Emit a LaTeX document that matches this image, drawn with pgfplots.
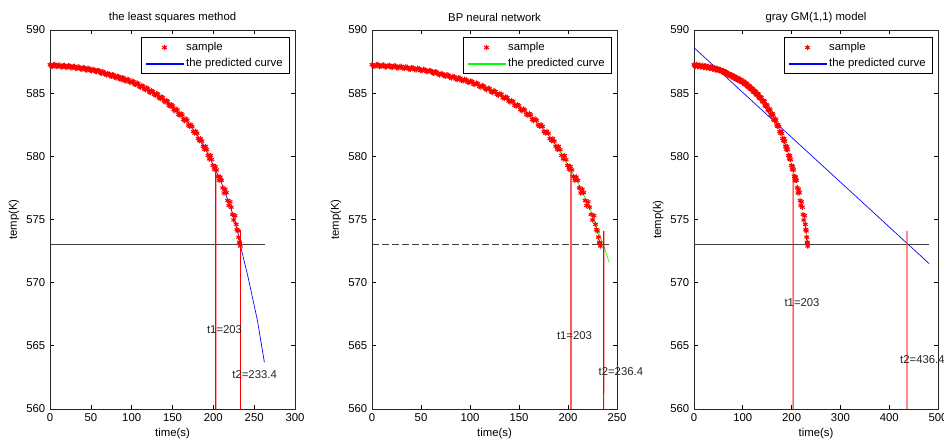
\documentclass[border=0pt]{standalone}
\usepackage{fontspec}
\setmainfont{Liberation Sans}
\usepackage{pgfplots}
\pgfplotsset{compat=1.18}
\usepackage{pgfplotstable}

\pgfplotstableread{
t T
0 587.25
1.5 587.16
3 587.12
4.5 587.24
6 587.28
7.5 587.10
9 587.14
10.5 587.20
12 587.22
13.5 587.08
15 587.10
16.5 587.18
18 587.20
19.5 587.04
21 587.06
22.5 587.16
24 587.15
25.5 587.00
27 587.02
28.5 587.10
30 587.12
31.5 586.98
33 586.96
34.5 587.08
36 587.05
37.5 586.92
39 586.90
40.5 587.02
42 587.00
43.5 586.86
45 586.84
46.5 586.96
48 586.95
49.5 586.80
51 586.78
52.5 586.88
54 586.86
55.5 586.72
57 586.70
58.5 586.80
60 586.78
61.5 586.62
63 586.58
64.5 586.70
66 586.66
67.5 586.50
69 586.45
70.5 586.56
72 586.52
73.5 586.38
75 586.34
76.5 586.46
78 586.42
79.5 586.26
81 586.20
82.5 586.34
84 586.30
85.5 586.12
87 586.08
88.5 586.22
90 586.18
91.5 586.00
93 585.96
94.5 586.10
96 586.06
97.5 585.88
99 585.84
100.5 585.96
102 585.92
103.5 585.72
105 585.68
106.5 585.80
108 585.75
109.5 585.54
111 585.48
112.5 585.60
114 585.55
115.5 585.34
117 585.28
118.5 585.40
120 585.34
121.5 585.10
123 585.06
124.5 585.18
126 585.12
127.5 584.90
129 584.84
130.5 584.96
132 584.92
133.5 584.64
135 584.58
136.5 584.70
138 584.64
139.5 584.38
141 584.30
142.5 584.40
144 584.34
145.5 584.04
147 583.96
148.5 584.08
150 584.00
151.5 583.70
153 583.60
154.5 583.74
156 583.66
157.5 583.32
159 583.24
160.5 583.38
162 583.28
163.5 582.92
165 582.82
166.5 582.96
168 582.86
169.5 582.48
171 582.38
172.5 582.50
174 582.36
175.5 581.96
177 581.84
178.5 581.98
180 581.82
181.5 581.40
183 581.24
184.5 581.40
186 581.20
187.5 580.80
189 580.56
190.5 580.78
192 580.52
193.5 580.08
195 579.80
196.5 580.06
198 579.74
199.5 579.28
201 578.98
202.5 579.20
204 578.92
205.5 578.40
207 578.10
208.5 578.36
210 578.10
211.5 577.50
213 577.10
214.5 577.40
216 577.12
217.5 576.50
219 576.10
220.5 576.40
222 575.98
223.5 575.40
225 574.96
226.5 575.30
228 574.62
229 574.20
230 574.10
231 573.60
232 573.20
232.5 573.10
233 572.90
}\samples

% least squares fit
\pgfplotstableread{
t T
0 587.20
10 587.18
20 587.13
30 587.05
40 586.95
50 586.84
60 586.70
70 586.50
80 586.30
90 586.10
100 585.88
110 585.60
120 585.25
130 584.88
140 584.45
150 583.90
160 583.30
170 582.58
180 581.70
190 580.62
200 579.30
210 577.90
220 576.15
225 575.20
230 574.00
233 573.00
243 570.30
254 567.00
262.5 563.70
}\lsq

% BP network output
\pgfplotstableread{
t T
0 587.20
10 587.18
20 587.13
30 587.05
40 586.95
50 586.84
60 586.70
70 586.50
80 586.30
90 586.10
100 585.88
110 585.60
120 585.25
130 584.88
140 584.45
150 583.90
160 583.30
170 582.58
180 581.70
190 580.62
200 579.30
210 577.95
220 576.30
225 575.40
230 574.20
236.4 572.95
242 571.60
}\bpn

\pgfplotsset{
  matlab/.style={
    scale only axis, width=183.75pt, height=284.25pt,
    anchor=south west,
    ymin=560, ymax=590, ytick={560,565,...,590},
    tick align=inside, major tick length=3pt,
    axis line style={black!85, line width=0.6pt},
    tick style={black, line width=0.5pt},
    font=\fontsize{8.5}{10}\selectfont,
    ticklabel style={font=\fontsize{8.5}{10}\selectfont},
    /pgf/number format/assume math mode=true,
    scaled ticks=false,
    xlabel={time(s)},
    xlabel style={at={(axis description cs:0.5,-0.066)}, anchor=center},
    ylabel style={at={(axis description cs:-0.147,0.5)}, anchor=center},
    every axis title shift=0pt,
    title style={at={(axis description cs:0.5,1.034)}, anchor=center},
    legend style={at={(1,1)}, anchor=north east, xshift=-4pt, yshift=-5.5pt,
      draw=black, line width=0.6pt, fill=white, font=\fontsize{8.5}{10}\selectfont,
      row sep=0.5pt, inner xsep=3pt, inner ysep=1.5pt},
    legend cell align=left,
    clip=false,
  },
  samplestyle/.style={only marks, mark=asterisk, mark size=2pt, red,
    mark options={line width=0.8pt},
    legend image code/.code={\draw[##1] plot coordinates {(14pt,0pt)};}},
  curvestyle/.style={line width=0.5pt,
    legend image code/.code={\fill[##1] (0pt,-0.4pt) rectangle (28pt,0.4pt);}},
  refline/.style={forget plot, black!75, line width=0.6pt},
  tline/.style={forget plot, color=red, line width=0.85pt},
}

\begin{document}
\begin{tikzpicture}

% least squares
\begin{axis}[matlab, at={(37.5pt,24pt)},
  xmin=0, xmax=300, xtick={0,50,...,300},
  ylabel={temp(K)}, title={the least squares method}]
  \addplot[samplestyle] table[x=t,y=T] {\samples};
  \addlegendentry{sample}
  \addplot[curvestyle, blue] table[x=t,y=T] {\lsq};
  \addlegendentry{the predicted curve}
  \addplot[refline] coordinates {(0,573) (263,573)};
  \addplot[tline] coordinates {(203,560) (203.02,578.8)};
  \addplot[tline] coordinates {(233.4,560) (233.4,574.1) (229,574.1)};
  \node[anchor=west, inner sep=0pt, black!85] at (axis cs:192,566.25) {t1=203};
  \node[anchor=west, inner sep=0pt, black!85] at (axis cs:223,562.7) {t2=233.4};
\end{axis}

% BP neural network
\begin{axis}[matlab, at={(279pt,24pt)},
  xmin=0, xmax=250, xtick={0,50,...,250},
  ylabel={temp(K)}, title={BP neural network}]
  \addplot[samplestyle] table[x=t,y=T] {\samples};
  \addlegendentry{sample}
  \addplot[curvestyle, green] table[x=t,y=T] {\bpn};
  \addlegendentry{the predicted curve}
  \addplot[refline, dash pattern=on 5pt off 2.5pt] coordinates {(0,573) (243,573)};
  \addplot[tline] coordinates {(203,560) (203.02,578.8)};
  \addplot[tline] coordinates {(236.4,560) (236.45,574.1)};
  \node[anchor=west, inner sep=0pt, black!85] at (axis cs:188.5,565.8) {t1=203};
  \node[anchor=west, inner sep=0pt, black!85] at (axis cs:231,562.95) {t2=236.4};
\end{axis}

% gray GM(1,1)
\begin{axis}[matlab, at={(520.5pt,24pt)}, width=183pt,
  xmin=0, xmax=500, xtick={0,100,...,500},
  ylabel={temp(k)}, title={gray GM(1,1) model}]
  \addplot[samplestyle] table[x=t,y=T] {\samples};
  \addlegendentry{sample}
  \addplot[curvestyle, blue] coordinates {(0,588.6) (482,571.5)};
  \addlegendentry{the predicted curve}
  \addplot[refline] coordinates {(0,573) (482,573)};
  \addplot[tline] coordinates {(203,560) (203.04,578.7)};
  \addplot[tline, color=red!70] coordinates {(436.4,560) (436.44,574.1)};
  \node[anchor=west, inner sep=0pt, black!85] at (axis cs:185,568.4) {t1=203};
  \node[anchor=west, inner sep=0pt, black!85] at (axis cs:422,563.9) {t2=436.4};
\end{axis}

\pgfresetboundingbox
\path (0pt,0pt) rectangle (708pt,330.75pt);
\end{tikzpicture}
\end{document}
